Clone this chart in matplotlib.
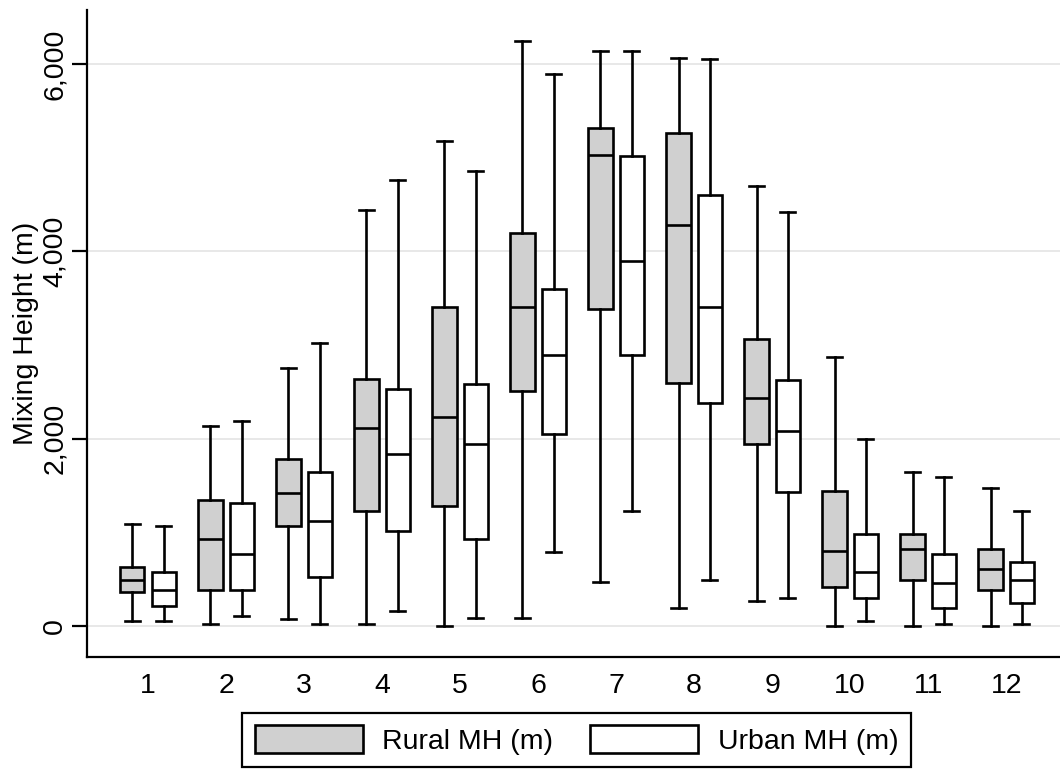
import matplotlib.pyplot as plt
from matplotlib.patches import Patch
from matplotlib.ticker import FuncFormatter

# ------------------------------------------------------------
# Monthly mixing height box stats (m)
# ------------------------------------------------------------
months = list(range(1, 13))

rural_lo = [54, 25, 79, 25, 0, 83, 467, 190, 271, 0, 0, 0]
rural_q1 = [358, 383, 1070, 1227, 1286, 2507, 3382, 2591, 1946, 411, 493, 382]
rural_med = [494, 930, 1420, 2114, 2235, 3409, 5024, 4279, 2439, 800, 821, 604]
rural_q3 = [630, 1342, 1782, 2641, 3409, 4196, 5315, 5260, 3064, 1446, 986, 821]
rural_hi = [1091, 2136, 2750, 4443, 5181, 6241, 6134, 6060, 4695, 2871, 1643, 1475]

urban_lo = [54, 104, 25, 165, 83, 791, 1226, 493, 300, 50, 25, 25]
urban_q1 = [215, 383, 519, 1009, 930, 2049, 2891, 2382, 1425, 300, 193, 243]
urban_med = [383, 769, 1120, 1832, 1938, 2891, 3900, 3400, 2082, 575, 461, 493]
urban_q3 = [572, 1313, 1642, 2535, 2588, 3599, 5019, 4606, 2629, 986, 764, 686]
urban_hi = [1070, 2193, 3025, 4766, 4852, 5889, 6134, 6050, 4418, 2000, 1586, 1229]

y_ticks = [0, 2000, 4000, 6000]
labels = ["Rural MH (m)", "Urban MH (m)"]

RURAL_FILL = "#d0d0d0"
FS = 20.5
LW = 1.9


def make_stats(lo, q1, med, q3, hi):
    return [dict(whislo=a, q1=b, med=c, q3=d, whishi=e)
            for a, b, c, d, e in zip(lo, q1, med, q3, hi)]


plt.rcParams['font.family'] = ['Liberation Sans', 'DejaVu Sans']

fig = plt.figure(figsize=(10.6, 7.7), dpi=100)
ax = fig.add_axes([87.3 / 1060, (770 - 656.7) / 770,
                   (1060 - 87.3) / 1060, (656.7 - 10) / 770])

line = dict(color="black", linewidth=LW)
common = dict(widths=0.31, capwidths=0.19, patch_artist=True,
              showfliers=False, medianprops=line, whiskerprops=line,
              capprops=line)

ax.bxp(make_stats(rural_lo, rural_q1, rural_med, rural_q3, rural_hi),
       positions=[m - 0.2 for m in months],
       boxprops=dict(facecolor=RURAL_FILL, edgecolor="black", linewidth=LW),
       **common)
ax.bxp(make_stats(urban_lo, urban_q1, urban_med, urban_q3, urban_hi),
       positions=[m + 0.2 for m in months],
       boxprops=dict(facecolor="white", edgecolor="black", linewidth=LW),
       **common)

ax.set_xlim(0.222, 12.69)
ax.set_ylim(-328, 6576)

# axes look (Stata-like)
ax.set_axisbelow(True)
ax.yaxis.grid(True, color="#e6e6e6", linewidth=1.3)
ax.xaxis.grid(False)
for side in ["top", "right"]:
    ax.spines[side].set_visible(False)
for side in ["left", "bottom"]:
    ax.spines[side].set_linewidth(1.6)

ax.set_xticks(months)
ax.set_xticklabels([str(m) for m in months])
ax.tick_params(axis="x", length=0, pad=12, labelsize=FS)

ax.set_yticks(y_ticks)
ax.yaxis.set_major_formatter(FuncFormatter(lambda v, p: f"{v:,.0f}"))
ax.tick_params(axis="y", length=11, width=1.6, direction="out",
               labelrotation=90, pad=3, labelsize=FS)
plt.setp(ax.get_yticklabels(), va="center")

ax.set_ylabel("Mixing Height (m)", fontsize=FS, labelpad=2)

handles = [Patch(facecolor=RURAL_FILL, edgecolor="black", linewidth=LW),
           Patch(facecolor="white", edgecolor="black", linewidth=LW)]
leg = fig.legend(handles, labels, loc="center",
                 bbox_to_anchor=(576.5 / 1060, 1 - 740 / 770),
                 ncol=2, frameon=True, fancybox=False, framealpha=1,
                 edgecolor="black", handlelength=3.8, handleheight=1.1,
                 handletextpad=0.68, columnspacing=1.3, borderpad=0.45,
                 fontsize=FS)
leg.get_frame().set_linewidth(1.6)

fig.savefig("out.png", dpi=100)
plt.close(fig)
